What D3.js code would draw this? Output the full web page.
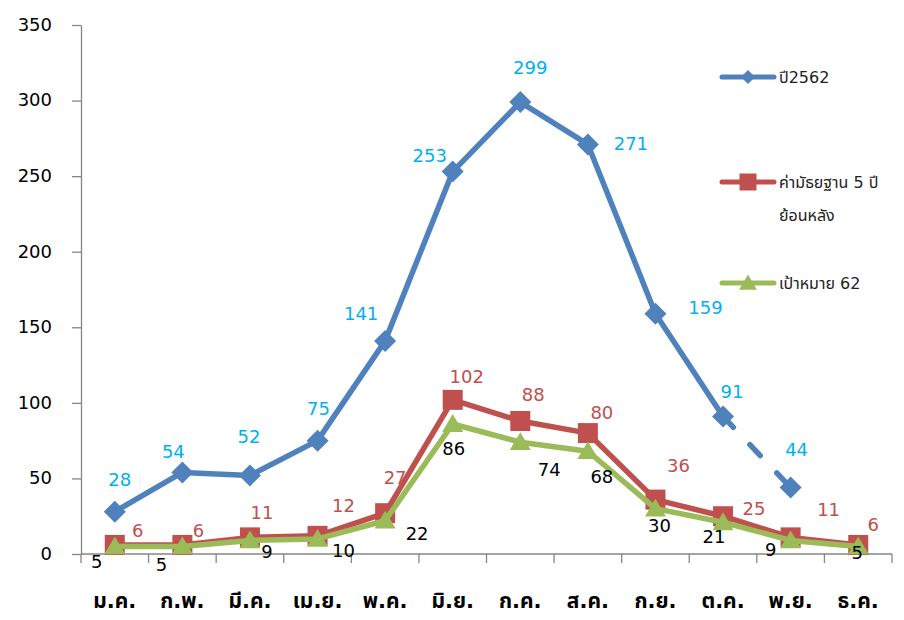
<!DOCTYPE html>
<html>
<head>
<meta charset="utf-8">
<script src="https://cdn.jsdelivr.net/npm/d3@7/dist/d3.min.js"></script>
<style>
  html, body { margin: 0; padding: 0; background: #ffffff; }
  svg { display: block; }
</style>
</head>
<body>
<script>
// ---- Data ----
const months = ["ม.ค.", "ก.พ.", "มี.ค.", "เม.ย.", "พ.ค.", "มิ.ย.", "ก.ค.", "ส.ค.", "ก.ย.", "ต.ค.", "พ.ย.", "ธ.ค."];
const year2562 = [28, 54, 52, 75, 141, 253, 299, 271, 159, 91, 44, null];
const median5y = [6, 6, 11, 12, 27, 102, 88, 80, 36, 25, 11, 6];
const target62 = [5, 5, 9, 10, 22, 86, 74, 68, 30, 21, 9, 5];
const yTicks = [0, 50, 100, 150, 200, 250, 300, 350];
const seriesNames = ["ปี2562", ["ค่ามัธยฐาน 5 ปี", "ย้อนหลัง"], "เป้าหมาย 62"];

// ---- Layout (label offsets relative to each point, in px) ----
const blueOff = [[5,-32],[-9,-21],[-1,-39],[1,-32],[-24,-27],[-23,-16],[10,-35],[43,-1],[50,-6],[9,-25],[6,-38],null];
const redOff = [[23,-14],[16,-14],[12,-25],[26,-30],[10,-36],[14,-23],[13,-26],[14,-21],[23,-34],[31,-8],[38,-28],[15,-20]];
const greenOff = [[-18,15],[-21,18],[17,11],[26,12],[32,13],[1,24],[29,27],[14,25],[4,17],[-9,14],[-20,9],[-1,6]];

(function () {
const W = 904, H = 620;
const pL = 81, pR = 892, pT = 25, pB = 554;
const font = "Tahoma, 'DejaVu Sans', 'Noto Sans Thai', 'Noto Sans', sans-serif";
const C = { blue: "#4F81BD", red: "#C0504D", green: "#9BBB59", blueLbl: "#00B0F0", axis: "#868686" };

const svg = d3.select("body").append("svg").attr("width", W).attr("height", H)
  .style("font-family", font);

const x = d3.scaleBand().domain(months).range([pL, pR]).padding(0);
const y = d3.scaleLinear().domain([0, 350]).range([pB, pT]);
const cx = m => x(m) + x.bandwidth() / 2;

// ---- Y axis ----
const yAxis = d3.axisLeft(y).tickValues(yTicks).tickSize(9).tickSizeOuter(0).tickPadding(20);
const gy = svg.append("g").attr("transform", `translate(${pL},0)`).call(yAxis);
gy.select(".domain").attr("stroke", C.axis).attr("stroke-width", 1.3);
gy.selectAll(".tick line").attr("stroke", C.axis).attr("stroke-width", 1.3);
gy.selectAll(".tick text").attr("fill", "#000").style("font-size", "18px")
  .style("font-family", "'DejaVu Sans', sans-serif").attr("dy", "0.3em");

// ---- X axis ----
const bounds = d3.range(months.length + 1).map(i => pL + i * x.step());
const gx = svg.append("g");
gx.append("line").attr("x1", pL).attr("x2", pR).attr("y1", pB).attr("y2", pB)
  .attr("stroke", C.axis).attr("stroke-width", 1.3);
gx.selectAll("line.t").data(bounds).join("line").attr("class", "t")
  .attr("x1", d => d).attr("x2", d => d).attr("y1", pB).attr("y2", pB + 9)
  .attr("stroke", C.axis).attr("stroke-width", 1.3);
gx.selectAll("text").data(months).join("text")
  .attr("x", d => cx(d)).attr("y", 601)
  .attr("text-anchor", "middle").attr("dominant-baseline", "central")
  .style("font-size", "21px").style("font-weight", "bold").attr("fill", "#000")
  .text(d => d);

// ---- Markers ----
const diamond = (g, s) => g.append("path").attr("d", `M0,${-s}L${s},0L0,${s}L${-s},0Z`);
const square = (g, s) => g.append("rect").attr("x", -s).attr("y", -s).attr("width", 2 * s).attr("height", 2 * s);
const triangle = (g, s) => g.append("path").attr("d", `M0,${-s * 0.95}L${s},${s * 0.75}L${-s},${s * 0.75}Z`);

const line = d3.line().defined(d => d.v != null).x(d => cx(d.m)).y(d => y(d.v));
const pts = arr => arr.map((v, i) => ({ m: months[i], v }));

function drawSeries(arr, color, markerFn, size, dashedFrom) {
  const p = pts(arr);
  const g = svg.append("g");
  if (dashedFrom != null) {
    g.append("path").datum(p.slice(0, dashedFrom + 1)).attr("d", line)
      .attr("fill", "none").attr("stroke", color).attr("stroke-width", 5.5).attr("stroke-linejoin", "round");
    g.append("path").datum(p.slice(dashedFrom, dashedFrom + 2)).attr("d", line)
      .attr("fill", "none").attr("stroke", color).attr("stroke-width", 5.5)
      .attr("stroke-linecap", "round").attr("stroke-dasharray", "15,24");
  } else {
    g.append("path").datum(p).attr("d", line)
      .attr("fill", "none").attr("stroke", color).attr("stroke-width", 5.5).attr("stroke-linejoin", "round");
  }
  p.filter(d => d.v != null).forEach(d => {
    const mg = g.append("g").attr("transform", `translate(${cx(d.m)},${y(d.v)})`);
    markerFn(mg, size).attr("fill", color);
  });
}

drawSeries(year2562, C.blue, diamond, 11, 9);
drawSeries(median5y, C.red, square, 10);
drawSeries(target62, C.green, triangle, 10.5);

// ---- Data labels ----
function drawLabels(arr, offs, color) {
  svg.append("g").selectAll("text").data(pts(arr).map((d, i) => ({ ...d, o: offs[i] })).filter(d => d.v != null))
    .join("text")
    .attr("x", d => cx(d.m) + d.o[0]).attr("y", d => y(d.v) + d.o[1])
    .attr("text-anchor", "middle").attr("dominant-baseline", "central")
    .style("font-size", "18px").attr("fill", color)
    .text(d => d.v);
}
drawLabels(year2562, blueOff, C.blueLbl);
drawLabels(median5y, redOff, C.red);
drawLabels(target62, greenOff, "#000");

// ---- Legend ----
const legend = [
  { name: seriesNames[0], color: C.blue, mk: diamond, s: 7, y: 77 },
  { name: seriesNames[1], color: C.red, mk: square, s: 8.5, y: 182 },
  { name: seriesNames[2], color: C.green, mk: triangle, s: 9, y: 283 }
];
legend.forEach(l => {
  const g = svg.append("g");
  g.append("line").attr("x1", 722).attr("x2", 774).attr("y1", l.y).attr("y2", l.y)
    .attr("stroke", l.color).attr("stroke-width", 5).attr("stroke-linecap", "round");
  const mg = g.append("g").attr("transform", `translate(748,${l.y})`);
  l.mk(mg, l.s).attr("fill", l.color);
  const names = Array.isArray(l.name) ? l.name : [l.name];
  names.forEach((n, i) => {
    g.append("text").attr("x", 779).attr("y", l.y + i * 33).attr("dominant-baseline", "central")
      .style("font-size", "16px").attr("fill", "#222").text(n);
  });
});
})();
</script>
</body>
</html>
